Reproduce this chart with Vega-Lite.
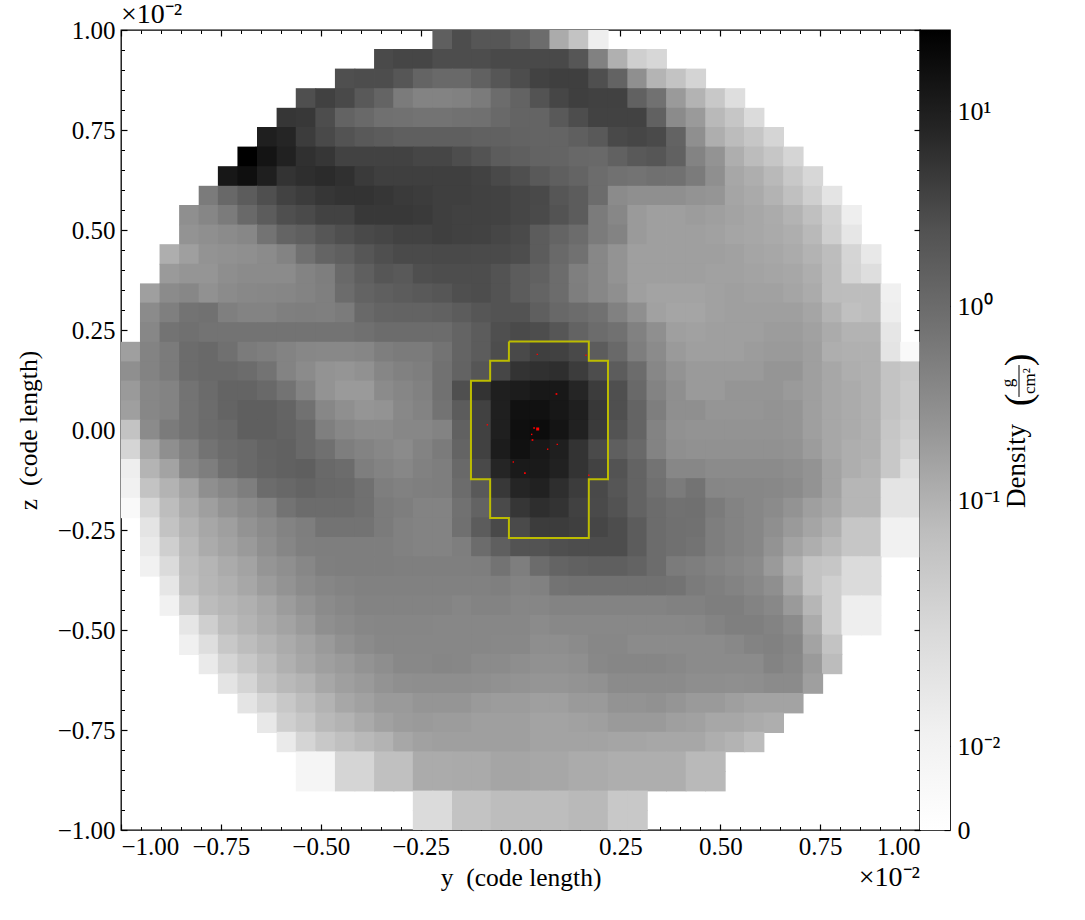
{"$schema":"https://vega.github.io/schema/vega-lite/v6.json","padding":{"left":15,"top":0,"right":0,"bottom":0},"background":"white","bounds":"flush","spacing":0,"config":{"view":{"stroke":"black","strokeWidth":1.3},"font":"Liberation Serif","axis":{"labelFont":"Liberation Serif","titleFont":"Liberation Serif","labelFontSize":25,"titleFontSize":25.5,"labelColor":"black","titleColor":"black","titleFontWeight":"normal","grid":false,"domain":false,"tickColor":"black","zindex":1}},
"hconcat":[{"width":799,"height":800,"resolve":{"axis":{"x":"independent","y":"independent"}},"layer":[
{"data":{"values":[
{"y":-0.195,"z":0.976,"d":2.1},{"y":-0.146,"z":0.976,"d":3.6},{"y":-0.098,"z":0.976,"d":2.7},{"y":-0.049,"z":0.976,"d":2.7},{"y":0,"z":0.976,"d":2.1},{"y":0.049,"z":0.976,"d":1.3},{"y":0.098,"z":0.976,"d":0.15},{"y":0.146,"z":0.976,"d":0.06},{"y":0.195,"z":0.976,"d":0.013},
{"y":-0.341,"z":0.927,"d":3.9},{"y":-0.293,"z":0.927,"d":4.5},{"y":-0.244,"z":0.927,"d":4.5},{"y":-0.195,"z":0.927,"d":3.6},{"y":-0.146,"z":0.927,"d":3.6},{"y":-0.098,"z":0.927,"d":3.6},{"y":-0.049,"z":0.927,"d":4.1},{"y":0,"z":0.927,"d":4.1},{"y":0.049,"z":0.927,"d":4.1},{"y":0.098,"z":0.927,"d":4.1},{"y":0.146,"z":0.927,"d":2.7},{"y":0.195,"z":0.927,"d":0.64},{"y":0.244,"z":0.927,"d":0.13},{"y":0.293,"z":0.927,"d":0.041},{"y":0.341,"z":0.927,"d":0.027},
{"y":-0.439,"z":0.878,"d":3.3},{"y":-0.39,"z":0.878,"d":3.6},{"y":-0.341,"z":0.878,"d":3.6},{"y":-0.293,"z":0.878,"d":2.7},{"y":-0.244,"z":0.878,"d":1.8},{"y":-0.195,"z":0.878,"d":1.5},{"y":-0.146,"z":0.878,"d":1.5},{"y":-0.098,"z":0.878,"d":2},{"y":-0.049,"z":0.878,"d":2.7},{"y":0,"z":0.878,"d":3.6},{"y":0.049,"z":0.878,"d":4.9},{"y":0.098,"z":0.878,"d":5.3},{"y":0.146,"z":0.878,"d":5.3},{"y":0.195,"z":0.878,"d":3.3},{"y":0.244,"z":0.878,"d":1.9},{"y":0.293,"z":0.878,"d":0.38},{"y":0.341,"z":0.878,"d":0.11},{"y":0.39,"z":0.878,"d":0.06},{"y":0.439,"z":0.878,"d":0.032},
{"y":-0.537,"z":0.829,"d":3.3},{"y":-0.488,"z":0.829,"d":5.1},{"y":-0.439,"z":0.829,"d":4.1},{"y":-0.39,"z":0.829,"d":2.5},{"y":-0.341,"z":0.829,"d":1.8},{"y":-0.293,"z":0.829,"d":0.75},{"y":-0.244,"z":0.829,"d":0.6},{"y":-0.195,"z":0.829,"d":0.6},{"y":-0.146,"z":0.829,"d":0.64},{"y":-0.098,"z":0.829,"d":0.75},{"y":-0.049,"z":0.829,"d":1.3},{"y":0,"z":0.829,"d":1.9},{"y":0.049,"z":0.829,"d":2.9},{"y":0.098,"z":0.829,"d":4.5},{"y":0.146,"z":0.829,"d":5.3},{"y":0.195,"z":0.829,"d":5.1},{"y":0.244,"z":0.829,"d":5.1},{"y":0.293,"z":0.829,"d":2},{"y":0.341,"z":0.829,"d":1},{"y":0.39,"z":0.829,"d":0.23},{"y":0.439,"z":0.829,"d":0.115},{"y":0.488,"z":0.829,"d":0.052},{"y":0.537,"z":0.829,"d":0.021},
{"y":-0.585,"z":0.78,"d":6.5},{"y":-0.537,"z":0.78,"d":6.3},{"y":-0.488,"z":0.78,"d":3.6},{"y":-0.439,"z":0.78,"d":1.9},{"y":-0.39,"z":0.78,"d":1.5},{"y":-0.341,"z":0.78,"d":1.1},{"y":-0.293,"z":0.78,"d":1},{"y":-0.244,"z":0.78,"d":0.9},{"y":-0.195,"z":0.78,"d":0.9},{"y":-0.146,"z":0.78,"d":1},{"y":-0.098,"z":0.78,"d":1.1},{"y":-0.049,"z":0.78,"d":1.5},{"y":0,"z":0.78,"d":1.8},{"y":0.049,"z":0.78,"d":1.8},{"y":0.098,"z":0.78,"d":2.5},{"y":0.146,"z":0.78,"d":3.6},{"y":0.195,"z":0.78,"d":4.9},{"y":0.244,"z":0.78,"d":4.9},{"y":0.293,"z":0.78,"d":4.9},{"y":0.341,"z":0.78,"d":2},{"y":0.39,"z":0.78,"d":0.45},{"y":0.439,"z":0.78,"d":0.23},{"y":0.488,"z":0.78,"d":0.09},{"y":0.537,"z":0.78,"d":0.055},{"y":0.585,"z":0.78,"d":0.023},
{"y":-0.634,"z":0.732,"d":12},{"y":-0.585,"z":0.732,"d":8.9},{"y":-0.537,"z":0.732,"d":5.7},{"y":-0.488,"z":0.732,"d":4.1},{"y":-0.439,"z":0.732,"d":2.9},{"y":-0.39,"z":0.732,"d":2.5},{"y":-0.341,"z":0.732,"d":2.3},{"y":-0.293,"z":0.732,"d":2.1},{"y":-0.244,"z":0.732,"d":2.1},{"y":-0.195,"z":0.732,"d":2.1},{"y":-0.146,"z":0.732,"d":2.1},{"y":-0.098,"z":0.732,"d":2},{"y":-0.049,"z":0.732,"d":2},{"y":0,"z":0.732,"d":1.9},{"y":0.049,"z":0.732,"d":1.8},{"y":0.098,"z":0.732,"d":1.8},{"y":0.146,"z":0.732,"d":2.1},{"y":0.195,"z":0.732,"d":2.5},{"y":0.244,"z":0.732,"d":4.1},{"y":0.293,"z":0.732,"d":4.5},{"y":0.341,"z":0.732,"d":3.9},{"y":0.39,"z":0.732,"d":1.9},{"y":0.439,"z":0.732,"d":0.38},{"y":0.488,"z":0.732,"d":0.14},{"y":0.537,"z":0.732,"d":0.075},{"y":0.585,"z":0.732,"d":0.055},{"y":0.634,"z":0.732,"d":0.03},
{"y":-0.683,"z":0.683,"d":25.9},{"y":-0.634,"z":0.683,"d":18.7},{"y":-0.585,"z":0.683,"d":11.3},{"y":-0.537,"z":0.683,"d":7.3},{"y":-0.488,"z":0.683,"d":6.5},{"y":-0.439,"z":0.683,"d":4.9},{"y":-0.39,"z":0.683,"d":4.9},{"y":-0.341,"z":0.683,"d":4.9},{"y":-0.293,"z":0.683,"d":4.9},{"y":-0.244,"z":0.683,"d":4.5},{"y":-0.195,"z":0.683,"d":4.5},{"y":-0.146,"z":0.683,"d":3.6},{"y":-0.098,"z":0.683,"d":2.9},{"y":-0.049,"z":0.683,"d":2.3},{"y":0,"z":0.683,"d":2.1},{"y":0.049,"z":0.683,"d":1.9},{"y":0.098,"z":0.683,"d":1.8},{"y":0.146,"z":0.683,"d":1.6},{"y":0.195,"z":0.683,"d":1.5},{"y":0.244,"z":0.683,"d":2},{"y":0.293,"z":0.683,"d":2.5},{"y":0.341,"z":0.683,"d":2.7},{"y":0.39,"z":0.683,"d":2},{"y":0.439,"z":0.683,"d":0.6},{"y":0.488,"z":0.683,"d":0.3},{"y":0.537,"z":0.683,"d":0.14},{"y":0.585,"z":0.683,"d":0.075},{"y":0.634,"z":0.683,"d":0.055},{"y":0.683,"z":0.683,"d":0.03},
{"y":-0.732,"z":0.634,"d":17},{"y":-0.683,"z":0.634,"d":21},{"y":-0.634,"z":0.634,"d":12},{"y":-0.585,"z":0.634,"d":6.9},{"y":-0.537,"z":0.634,"d":7.6},{"y":-0.488,"z":0.634,"d":8},{"y":-0.439,"z":0.634,"d":7.3},{"y":-0.39,"z":0.634,"d":6},{"y":-0.341,"z":0.634,"d":5.3},{"y":-0.293,"z":0.634,"d":5.3},{"y":-0.244,"z":0.634,"d":5.3},{"y":-0.195,"z":0.634,"d":5.3},{"y":-0.146,"z":0.634,"d":5.3},{"y":-0.098,"z":0.634,"d":4.9},{"y":-0.049,"z":0.634,"d":4.1},{"y":0,"z":0.634,"d":3.3},{"y":0.049,"z":0.634,"d":2.5},{"y":0.098,"z":0.634,"d":2.1},{"y":0.146,"z":0.634,"d":1.8},{"y":0.195,"z":0.634,"d":1.3},{"y":0.244,"z":0.634,"d":1},{"y":0.293,"z":0.634,"d":0.9},{"y":0.341,"z":0.634,"d":1.1},{"y":0.39,"z":0.634,"d":1},{"y":0.439,"z":0.634,"d":0.75},{"y":0.488,"z":0.634,"d":0.38},{"y":0.537,"z":0.634,"d":0.17},{"y":0.585,"z":0.634,"d":0.14},{"y":0.634,"z":0.634,"d":0.09},{"y":0.683,"z":0.634,"d":0.052},{"y":0.732,"z":0.634,"d":0.027},
{"y":-0.78,"z":0.585,"d":0.75},{"y":-0.732,"z":0.585,"d":1.6},{"y":-0.683,"z":0.585,"d":2.3},{"y":-0.634,"z":0.585,"d":3.3},{"y":-0.585,"z":0.585,"d":4.9},{"y":-0.537,"z":0.585,"d":5.7},{"y":-0.488,"z":0.585,"d":6.5},{"y":-0.439,"z":0.585,"d":6.9},{"y":-0.39,"z":0.585,"d":6.9},{"y":-0.341,"z":0.585,"d":6.5},{"y":-0.293,"z":0.585,"d":6},{"y":-0.244,"z":0.585,"d":5.7},{"y":-0.195,"z":0.585,"d":5.3},{"y":-0.146,"z":0.585,"d":5.3},{"y":-0.098,"z":0.585,"d":5.1},{"y":-0.049,"z":0.585,"d":4.9},{"y":0,"z":0.585,"d":4.5},{"y":0.049,"z":0.585,"d":4.1},{"y":0.098,"z":0.585,"d":2.7},{"y":0.146,"z":0.585,"d":2.3},{"y":0.195,"z":0.585,"d":1.3},{"y":0.244,"z":0.585,"d":0.45},{"y":0.293,"z":0.585,"d":0.38},{"y":0.341,"z":0.585,"d":0.38},{"y":0.39,"z":0.585,"d":0.38},{"y":0.439,"z":0.585,"d":0.3},{"y":0.488,"z":0.585,"d":0.26},{"y":0.537,"z":0.585,"d":0.18},{"y":0.585,"z":0.585,"d":0.155},{"y":0.634,"z":0.585,"d":0.115},{"y":0.683,"z":0.585,"d":0.065},{"y":0.732,"z":0.585,"d":0.041},{"y":0.78,"z":0.585,"d":0.018},
{"y":-0.829,"z":0.537,"d":0.38},{"y":-0.78,"z":0.537,"d":0.55},{"y":-0.732,"z":0.537,"d":0.75},{"y":-0.683,"z":0.537,"d":1.5},{"y":-0.634,"z":0.537,"d":2.3},{"y":-0.585,"z":0.537,"d":3.3},{"y":-0.537,"z":0.537,"d":3.9},{"y":-0.488,"z":0.537,"d":4.9},{"y":-0.439,"z":0.537,"d":4.9},{"y":-0.39,"z":0.537,"d":6.3},{"y":-0.341,"z":0.537,"d":6.3},{"y":-0.293,"z":0.537,"d":6.3},{"y":-0.244,"z":0.537,"d":6},{"y":-0.195,"z":0.537,"d":5.3},{"y":-0.146,"z":0.537,"d":5.1},{"y":-0.098,"z":0.537,"d":5.1},{"y":-0.049,"z":0.537,"d":4.9},{"y":0,"z":0.537,"d":4.5},{"y":0.049,"z":0.537,"d":3.9},{"y":0.098,"z":0.537,"d":2.9},{"y":0.146,"z":0.537,"d":2.3},{"y":0.195,"z":0.537,"d":0.75},{"y":0.244,"z":0.537,"d":0.53},{"y":0.293,"z":0.537,"d":0.23},{"y":0.341,"z":0.537,"d":0.21},{"y":0.39,"z":0.537,"d":0.21},{"y":0.439,"z":0.537,"d":0.22},{"y":0.488,"z":0.537,"d":0.21},{"y":0.537,"z":0.537,"d":0.19},{"y":0.585,"z":0.537,"d":0.17},{"y":0.634,"z":0.537,"d":0.15},{"y":0.683,"z":0.537,"d":0.115},{"y":0.732,"z":0.537,"d":0.065},{"y":0.78,"z":0.537,"d":0.035},{"y":0.829,"z":0.537,"d":0.013},
{"y":-0.829,"z":0.488,"d":0.3},{"y":-0.78,"z":0.488,"d":0.38},{"y":-0.732,"z":0.488,"d":0.45},{"y":-0.683,"z":0.488,"d":0.53},{"y":-0.634,"z":0.488,"d":0.9},{"y":-0.585,"z":0.488,"d":1.8},{"y":-0.537,"z":0.488,"d":2.1},{"y":-0.488,"z":0.488,"d":2.7},{"y":-0.439,"z":0.488,"d":3.3},{"y":-0.39,"z":0.488,"d":4.1},{"y":-0.341,"z":0.488,"d":4.5},{"y":-0.293,"z":0.488,"d":4.9},{"y":-0.244,"z":0.488,"d":4.9},{"y":-0.195,"z":0.488,"d":5.3},{"y":-0.146,"z":0.488,"d":5.1},{"y":-0.098,"z":0.488,"d":4.9},{"y":-0.049,"z":0.488,"d":4.5},{"y":0,"z":0.488,"d":3.9},{"y":0.049,"z":0.488,"d":2.3},{"y":0.098,"z":0.488,"d":1.8},{"y":0.146,"z":0.488,"d":1.3},{"y":0.195,"z":0.488,"d":0.75},{"y":0.244,"z":0.488,"d":0.6},{"y":0.293,"z":0.488,"d":0.23},{"y":0.341,"z":0.488,"d":0.21},{"y":0.39,"z":0.488,"d":0.21},{"y":0.439,"z":0.488,"d":0.21},{"y":0.488,"z":0.488,"d":0.2},{"y":0.537,"z":0.488,"d":0.18},{"y":0.585,"z":0.488,"d":0.17},{"y":0.634,"z":0.488,"d":0.155},{"y":0.683,"z":0.488,"d":0.14},{"y":0.732,"z":0.488,"d":0.09},{"y":0.78,"z":0.488,"d":0.041},{"y":0.829,"z":0.488,"d":0.017},
{"y":-0.878,"z":0.439,"d":0.14},{"y":-0.829,"z":0.439,"d":0.21},{"y":-0.78,"z":0.439,"d":0.3},{"y":-0.732,"z":0.439,"d":0.35},{"y":-0.683,"z":0.439,"d":0.38},{"y":-0.634,"z":0.439,"d":0.45},{"y":-0.585,"z":0.439,"d":0.6},{"y":-0.537,"z":0.439,"d":1.1},{"y":-0.488,"z":0.439,"d":1.8},{"y":-0.439,"z":0.439,"d":2.1},{"y":-0.39,"z":0.439,"d":2.7},{"y":-0.341,"z":0.439,"d":3.3},{"y":-0.293,"z":0.439,"d":3.9},{"y":-0.244,"z":0.439,"d":3.9},{"y":-0.195,"z":0.439,"d":4.1},{"y":-0.146,"z":0.439,"d":4.1},{"y":-0.098,"z":0.439,"d":3.9},{"y":-0.049,"z":0.439,"d":3.9},{"y":0,"z":0.439,"d":3.6},{"y":0.049,"z":0.439,"d":2.3},{"y":0.098,"z":0.439,"d":1.5},{"y":0.146,"z":0.439,"d":1},{"y":0.195,"z":0.439,"d":0.53},{"y":0.244,"z":0.439,"d":0.3},{"y":0.293,"z":0.439,"d":0.21},{"y":0.341,"z":0.439,"d":0.21},{"y":0.39,"z":0.439,"d":0.21},{"y":0.439,"z":0.439,"d":0.21},{"y":0.488,"z":0.439,"d":0.21},{"y":0.537,"z":0.439,"d":0.2},{"y":0.585,"z":0.439,"d":0.18},{"y":0.634,"z":0.439,"d":0.17},{"y":0.683,"z":0.439,"d":0.15},{"y":0.732,"z":0.439,"d":0.115},{"y":0.78,"z":0.439,"d":0.07},{"y":0.829,"z":0.439,"d":0.03},{"y":0.878,"z":0.439,"d":0.016},
{"y":-0.878,"z":0.39,"d":0.23},{"y":-0.829,"z":0.39,"d":0.26},{"y":-0.78,"z":0.39,"d":0.26},{"y":-0.732,"z":0.39,"d":0.4},{"y":-0.683,"z":0.39,"d":0.45},{"y":-0.634,"z":0.39,"d":0.45},{"y":-0.585,"z":0.39,"d":0.45},{"y":-0.537,"z":0.39,"d":0.6},{"y":-0.488,"z":0.39,"d":0.7},{"y":-0.439,"z":0.39,"d":1.5},{"y":-0.39,"z":0.39,"d":2.1},{"y":-0.341,"z":0.39,"d":2.7},{"y":-0.293,"z":0.39,"d":2.5},{"y":-0.244,"z":0.39,"d":3.3},{"y":-0.195,"z":0.39,"d":3.6},{"y":-0.146,"z":0.39,"d":3.6},{"y":-0.098,"z":0.39,"d":3.6},{"y":-0.049,"z":0.39,"d":2.9},{"y":0,"z":0.39,"d":2.3},{"y":0.049,"z":0.39,"d":2},{"y":0.098,"z":0.39,"d":1.3},{"y":0.146,"z":0.39,"d":0.67},{"y":0.195,"z":0.39,"d":0.53},{"y":0.244,"z":0.39,"d":0.3},{"y":0.293,"z":0.39,"d":0.21},{"y":0.341,"z":0.39,"d":0.21},{"y":0.39,"z":0.39,"d":0.21},{"y":0.439,"z":0.39,"d":0.21},{"y":0.488,"z":0.39,"d":0.2},{"y":0.537,"z":0.39,"d":0.2},{"y":0.585,"z":0.39,"d":0.19},{"y":0.634,"z":0.39,"d":0.18},{"y":0.683,"z":0.39,"d":0.17},{"y":0.732,"z":0.39,"d":0.14},{"y":0.78,"z":0.39,"d":0.075},{"y":0.829,"z":0.39,"d":0.032},{"y":0.878,"z":0.39,"d":0.021},
{"y":-0.927,"z":0.341,"d":0.21},{"y":-0.878,"z":0.341,"d":0.45},{"y":-0.829,"z":0.341,"d":0.53},{"y":-0.78,"z":0.341,"d":0.35},{"y":-0.732,"z":0.341,"d":0.45},{"y":-0.683,"z":0.341,"d":0.5},{"y":-0.634,"z":0.341,"d":0.53},{"y":-0.585,"z":0.341,"d":0.55},{"y":-0.537,"z":0.341,"d":0.6},{"y":-0.488,"z":0.341,"d":0.67},{"y":-0.439,"z":0.341,"d":1.3},{"y":-0.39,"z":0.341,"d":1.9},{"y":-0.341,"z":0.341,"d":2.1},{"y":-0.293,"z":0.341,"d":2.3},{"y":-0.244,"z":0.341,"d":2.5},{"y":-0.195,"z":0.341,"d":2.7},{"y":-0.146,"z":0.341,"d":3.3},{"y":-0.098,"z":0.341,"d":3.6},{"y":-0.049,"z":0.341,"d":2.9},{"y":0,"z":0.341,"d":2.3},{"y":0.049,"z":0.341,"d":1.8},{"y":0.098,"z":0.341,"d":1.3},{"y":0.146,"z":0.341,"d":0.7},{"y":0.195,"z":0.341,"d":0.53},{"y":0.244,"z":0.341,"d":0.38},{"y":0.293,"z":0.341,"d":0.21},{"y":0.341,"z":0.341,"d":0.19},{"y":0.39,"z":0.341,"d":0.19},{"y":0.439,"z":0.341,"d":0.19},{"y":0.488,"z":0.341,"d":0.2},{"y":0.537,"z":0.341,"d":0.21},{"y":0.585,"z":0.341,"d":0.2},{"y":0.634,"z":0.341,"d":0.2},{"y":0.683,"z":0.341,"d":0.18},{"y":0.732,"z":0.341,"d":0.15},{"y":0.78,"z":0.341,"d":0.075},{"y":0.829,"z":0.341,"d":0.07},{"y":0.878,"z":0.341,"d":0.07},{"y":0.927,"z":0.341,"d":0.012},
{"y":-0.927,"z":0.293,"d":0.45},{"y":-0.878,"z":0.293,"d":0.67},{"y":-0.829,"z":0.293,"d":0.9},{"y":-0.78,"z":0.293,"d":1},{"y":-0.732,"z":0.293,"d":0.67},{"y":-0.683,"z":0.293,"d":0.6},{"y":-0.634,"z":0.293,"d":0.6},{"y":-0.585,"z":0.293,"d":0.67},{"y":-0.537,"z":0.293,"d":0.7},{"y":-0.488,"z":0.293,"d":0.67},{"y":-0.439,"z":0.293,"d":0.75},{"y":-0.39,"z":0.293,"d":1.5},{"y":-0.341,"z":0.293,"d":1.8},{"y":-0.293,"z":0.293,"d":1.9},{"y":-0.244,"z":0.293,"d":1.9},{"y":-0.195,"z":0.293,"d":2},{"y":-0.146,"z":0.293,"d":2.3},{"y":-0.098,"z":0.293,"d":2.7},{"y":-0.049,"z":0.293,"d":2.9},{"y":0,"z":0.293,"d":2.9},{"y":0.049,"z":0.293,"d":2.1},{"y":0.098,"z":0.293,"d":1.6},{"y":0.146,"z":0.293,"d":1.3},{"y":0.195,"z":0.293,"d":1},{"y":0.244,"z":0.293,"d":0.64},{"y":0.293,"z":0.293,"d":0.38},{"y":0.341,"z":0.293,"d":0.2},{"y":0.39,"z":0.293,"d":0.18},{"y":0.439,"z":0.293,"d":0.18},{"y":0.488,"z":0.293,"d":0.2},{"y":0.537,"z":0.293,"d":0.21},{"y":0.585,"z":0.293,"d":0.21},{"y":0.634,"z":0.293,"d":0.21},{"y":0.683,"z":0.293,"d":0.21},{"y":0.732,"z":0.293,"d":0.18},{"y":0.78,"z":0.293,"d":0.115},{"y":0.829,"z":0.293,"d":0.065},{"y":0.878,"z":0.293,"d":0.07},{"y":0.927,"z":0.293,"d":0.013},
{"y":-0.927,"z":0.244,"d":0.53},{"y":-0.878,"z":0.244,"d":0.9},{"y":-0.829,"z":0.244,"d":1.1},{"y":-0.78,"z":0.244,"d":0.9},{"y":-0.732,"z":0.244,"d":0.9},{"y":-0.683,"z":0.244,"d":0.9},{"y":-0.634,"z":0.244,"d":0.9},{"y":-0.585,"z":0.244,"d":0.9},{"y":-0.537,"z":0.244,"d":0.9},{"y":-0.488,"z":0.244,"d":0.9},{"y":-0.439,"z":0.244,"d":0.9},{"y":-0.39,"z":0.244,"d":1.1},{"y":-0.341,"z":0.244,"d":1.3},{"y":-0.293,"z":0.244,"d":1.3},{"y":-0.244,"z":0.244,"d":1.3},{"y":-0.195,"z":0.244,"d":1.3},{"y":-0.146,"z":0.244,"d":1.8},{"y":-0.098,"z":0.244,"d":2.3},{"y":-0.049,"z":0.244,"d":3.3},{"y":0,"z":0.244,"d":3.9},{"y":0.049,"z":0.244,"d":3.6},{"y":0.098,"z":0.244,"d":2.7},{"y":0.146,"z":0.244,"d":1.9},{"y":0.195,"z":0.244,"d":1.3},{"y":0.244,"z":0.244,"d":1},{"y":0.293,"z":0.244,"d":0.64},{"y":0.341,"z":0.244,"d":0.38},{"y":0.39,"z":0.244,"d":0.21},{"y":0.439,"z":0.244,"d":0.2},{"y":0.488,"z":0.244,"d":0.21},{"y":0.537,"z":0.244,"d":0.21},{"y":0.585,"z":0.244,"d":0.21},{"y":0.634,"z":0.244,"d":0.22},{"y":0.683,"z":0.244,"d":0.22},{"y":0.732,"z":0.244,"d":0.2},{"y":0.78,"z":0.244,"d":0.15},{"y":0.829,"z":0.244,"d":0.115},{"y":0.878,"z":0.244,"d":0.115},{"y":0.927,"z":0.244,"d":0.017},
{"y":-0.976,"z":0.195,"d":0.21},{"y":-0.927,"z":0.195,"d":0.6},{"y":-0.878,"z":0.195,"d":0.75},{"y":-0.829,"z":0.195,"d":1.3},{"y":-0.78,"z":0.195,"d":1.5},{"y":-0.732,"z":0.195,"d":1.1},{"y":-0.683,"z":0.195,"d":0.75},{"y":-0.634,"z":0.195,"d":0.7},{"y":-0.585,"z":0.195,"d":0.6},{"y":-0.537,"z":0.195,"d":0.53},{"y":-0.488,"z":0.195,"d":0.5},{"y":-0.439,"z":0.195,"d":0.5},{"y":-0.39,"z":0.195,"d":0.55},{"y":-0.341,"z":0.195,"d":0.7},{"y":-0.293,"z":0.195,"d":0.75},{"y":-0.244,"z":0.195,"d":0.75},{"y":-0.195,"z":0.195,"d":0.9},{"y":-0.146,"z":0.195,"d":1.8},{"y":-0.098,"z":0.195,"d":2.3},{"y":-0.049,"z":0.195,"d":3.6},{"y":0,"z":0.195,"d":4.1},{"y":0.049,"z":0.195,"d":5.3},{"y":0.098,"z":0.195,"d":5.1},{"y":0.146,"z":0.195,"d":4.1},{"y":0.195,"z":0.195,"d":2.3},{"y":0.244,"z":0.195,"d":1.5},{"y":0.293,"z":0.195,"d":0.7},{"y":0.341,"z":0.195,"d":0.45},{"y":0.39,"z":0.195,"d":0.23},{"y":0.439,"z":0.195,"d":0.21},{"y":0.488,"z":0.195,"d":0.21},{"y":0.537,"z":0.195,"d":0.21},{"y":0.585,"z":0.195,"d":0.22},{"y":0.634,"z":0.195,"d":0.23},{"y":0.683,"z":0.195,"d":0.23},{"y":0.732,"z":0.195,"d":0.21},{"y":0.78,"z":0.195,"d":0.14},{"y":0.829,"z":0.195,"d":0.13},{"y":0.878,"z":0.195,"d":0.13},{"y":0.927,"z":0.195,"d":0.018},{"y":0.976,"z":0.195,"d":0.005},
{"y":-0.976,"z":0.146,"d":0.38},{"y":-0.927,"z":0.146,"d":0.6},{"y":-0.878,"z":0.146,"d":0.75},{"y":-0.829,"z":0.146,"d":1.3},{"y":-0.78,"z":0.146,"d":1.5},{"y":-0.732,"z":0.146,"d":1.5},{"y":-0.683,"z":0.146,"d":1.3},{"y":-0.634,"z":0.146,"d":0.9},{"y":-0.585,"z":0.146,"d":0.6},{"y":-0.537,"z":0.146,"d":0.45},{"y":-0.488,"z":0.146,"d":0.3},{"y":-0.439,"z":0.146,"d":0.26},{"y":-0.39,"z":0.146,"d":0.35},{"y":-0.341,"z":0.146,"d":0.55},{"y":-0.293,"z":0.146,"d":0.64},{"y":-0.244,"z":0.146,"d":0.7},{"y":-0.195,"z":0.146,"d":1},{"y":-0.146,"z":0.146,"d":1.9},{"y":-0.098,"z":0.146,"d":2.7},{"y":-0.049,"z":0.146,"d":4.5},{"y":0,"z":0.146,"d":6.9},{"y":0.049,"z":0.146,"d":7.3},{"y":0.098,"z":0.146,"d":7.6},{"y":0.146,"z":0.146,"d":5.7},{"y":0.195,"z":0.146,"d":3.6},{"y":0.244,"z":0.146,"d":2.3},{"y":0.293,"z":0.146,"d":1.3},{"y":0.341,"z":0.146,"d":0.53},{"y":0.39,"z":0.146,"d":0.3},{"y":0.439,"z":0.146,"d":0.23},{"y":0.488,"z":0.146,"d":0.23},{"y":0.537,"z":0.146,"d":0.23},{"y":0.585,"z":0.146,"d":0.23},{"y":0.634,"z":0.146,"d":0.26},{"y":0.683,"z":0.146,"d":0.26},{"y":0.732,"z":0.146,"d":0.21},{"y":0.78,"z":0.146,"d":0.17},{"y":0.829,"z":0.146,"d":0.14},{"y":0.878,"z":0.146,"d":0.13},{"y":0.927,"z":0.146,"d":0.06},{"y":0.976,"z":0.146,"d":0.052},
{"y":-0.976,"z":0.098,"d":0.23},{"y":-0.927,"z":0.098,"d":0.53},{"y":-0.878,"z":0.098,"d":0.6},{"y":-0.829,"z":0.098,"d":0.9},{"y":-0.78,"z":0.098,"d":1.4},{"y":-0.732,"z":0.098,"d":1.8},{"y":-0.683,"z":0.098,"d":1.8},{"y":-0.634,"z":0.098,"d":1.5},{"y":-0.585,"z":0.098,"d":0.9},{"y":-0.537,"z":0.098,"d":0.6},{"y":-0.488,"z":0.098,"d":0.3},{"y":-0.439,"z":0.098,"d":0.23},{"y":-0.39,"z":0.098,"d":0.23},{"y":-0.341,"z":0.098,"d":0.45},{"y":-0.293,"z":0.098,"d":0.55},{"y":-0.244,"z":0.098,"d":0.64},{"y":-0.195,"z":0.098,"d":1},{"y":-0.146,"z":0.098,"d":3.3},{"y":-0.098,"z":0.098,"d":6.9},{"y":-0.049,"z":0.098,"d":12},{"y":0,"z":0.098,"d":13.8},{"y":0.049,"z":0.098,"d":16.2},{"y":0.098,"z":0.098,"d":16.2},{"y":0.146,"z":0.098,"d":8.9},{"y":0.195,"z":0.098,"d":5.7},{"y":0.244,"z":0.098,"d":3.3},{"y":0.293,"z":0.098,"d":1.5},{"y":0.341,"z":0.098,"d":0.6},{"y":0.39,"z":0.098,"d":0.38},{"y":0.439,"z":0.098,"d":0.23},{"y":0.488,"z":0.098,"d":0.23},{"y":0.537,"z":0.098,"d":0.26},{"y":0.585,"z":0.098,"d":0.26},{"y":0.634,"z":0.098,"d":0.26},{"y":0.683,"z":0.098,"d":0.23},{"y":0.732,"z":0.098,"d":0.21},{"y":0.78,"z":0.098,"d":0.17},{"y":0.829,"z":0.098,"d":0.15},{"y":0.878,"z":0.098,"d":0.13},{"y":0.927,"z":0.098,"d":0.06},{"y":0.976,"z":0.098,"d":0.047},
{"y":-0.976,"z":0.049,"d":0.21},{"y":-0.927,"z":0.049,"d":0.53},{"y":-0.878,"z":0.049,"d":0.6},{"y":-0.829,"z":0.049,"d":0.9},{"y":-0.78,"z":0.049,"d":1.3},{"y":-0.732,"z":0.049,"d":1.8},{"y":-0.683,"z":0.049,"d":2.1},{"y":-0.634,"z":0.049,"d":2.1},{"y":-0.585,"z":0.049,"d":1.8},{"y":-0.537,"z":0.049,"d":1},{"y":-0.488,"z":0.049,"d":0.53},{"y":-0.439,"z":0.049,"d":0.38},{"y":-0.39,"z":0.049,"d":0.26},{"y":-0.341,"z":0.049,"d":0.3},{"y":-0.293,"z":0.049,"d":0.5},{"y":-0.244,"z":0.049,"d":0.6},{"y":-0.195,"z":0.049,"d":0.9},{"y":-0.146,"z":0.049,"d":2.3},{"y":-0.098,"z":0.049,"d":5.1},{"y":-0.049,"z":0.049,"d":12},{"y":0,"z":0.049,"d":20},{"y":0.049,"z":0.049,"d":20},{"y":0.098,"z":0.049,"d":17},{"y":0.146,"z":0.049,"d":12},{"y":0.195,"z":0.049,"d":6.3},{"y":0.244,"z":0.049,"d":3.3},{"y":0.293,"z":0.049,"d":1.8},{"y":0.341,"z":0.049,"d":0.7},{"y":0.39,"z":0.049,"d":0.38},{"y":0.439,"z":0.049,"d":0.38},{"y":0.488,"z":0.049,"d":0.26},{"y":0.537,"z":0.049,"d":0.26},{"y":0.585,"z":0.049,"d":0.26},{"y":0.634,"z":0.049,"d":0.3},{"y":0.683,"z":0.049,"d":0.26},{"y":0.732,"z":0.049,"d":0.21},{"y":0.78,"z":0.049,"d":0.17},{"y":0.829,"z":0.049,"d":0.15},{"y":0.878,"z":0.049,"d":0.13},{"y":0.927,"z":0.049,"d":0.06},{"y":0.976,"z":0.049,"d":0.047},
{"y":-0.976,"z":0,"d":0.06},{"y":-0.927,"z":0,"d":0.45},{"y":-0.878,"z":0,"d":0.75},{"y":-0.829,"z":0,"d":0.9},{"y":-0.78,"z":0,"d":1.3},{"y":-0.732,"z":0,"d":1.5},{"y":-0.683,"z":0,"d":2.1},{"y":-0.634,"z":0,"d":2.1},{"y":-0.585,"z":0,"d":1.9},{"y":-0.537,"z":0,"d":1.5},{"y":-0.488,"z":0,"d":0.67},{"y":-0.439,"z":0,"d":0.53},{"y":-0.39,"z":0,"d":0.45},{"y":-0.341,"z":0,"d":0.45},{"y":-0.293,"z":0,"d":0.53},{"y":-0.244,"z":0,"d":0.53},{"y":-0.195,"z":0,"d":0.6},{"y":-0.146,"z":0,"d":2},{"y":-0.098,"z":0,"d":5.1},{"y":-0.049,"z":0,"d":12},{"y":0,"z":0,"d":21},{"y":0.049,"z":0,"d":22},{"y":0.098,"z":0,"d":18.7},{"y":0.146,"z":0,"d":11.3},{"y":0.195,"z":0,"d":6},{"y":0.244,"z":0,"d":2.9},{"y":0.293,"z":0,"d":1.8},{"y":0.341,"z":0,"d":0.6},{"y":0.39,"z":0,"d":0.35},{"y":0.439,"z":0,"d":0.3},{"y":0.488,"z":0,"d":0.3},{"y":0.537,"z":0,"d":0.3},{"y":0.585,"z":0,"d":0.3},{"y":0.634,"z":0,"d":0.3},{"y":0.683,"z":0,"d":0.26},{"y":0.732,"z":0,"d":0.21},{"y":0.78,"z":0,"d":0.17},{"y":0.829,"z":0,"d":0.15},{"y":0.878,"z":0,"d":0.13},{"y":0.927,"z":0,"d":0.055},{"y":0.976,"z":0,"d":0.041},
{"y":-0.976,"z":-0.049,"d":0.03},{"y":-0.927,"z":-0.049,"d":0.17},{"y":-0.878,"z":-0.049,"d":0.38},{"y":-0.829,"z":-0.049,"d":0.64},{"y":-0.78,"z":-0.049,"d":0.9},{"y":-0.732,"z":-0.049,"d":1.3},{"y":-0.683,"z":-0.049,"d":1.5},{"y":-0.634,"z":-0.049,"d":1.9},{"y":-0.585,"z":-0.049,"d":2},{"y":-0.537,"z":-0.049,"d":1.5},{"y":-0.488,"z":-0.049,"d":1.1},{"y":-0.439,"z":-0.049,"d":0.7},{"y":-0.39,"z":-0.049,"d":0.6},{"y":-0.341,"z":-0.049,"d":0.53},{"y":-0.293,"z":-0.049,"d":0.45},{"y":-0.244,"z":-0.049,"d":0.6},{"y":-0.195,"z":-0.049,"d":0.75},{"y":-0.146,"z":-0.049,"d":1.8},{"y":-0.098,"z":-0.049,"d":5.1},{"y":-0.049,"z":-0.049,"d":13.8},{"y":0,"z":-0.049,"d":20},{"y":0.049,"z":-0.049,"d":16.2},{"y":0.098,"z":-0.049,"d":12},{"y":0.146,"z":-0.049,"d":6.9},{"y":0.195,"z":-0.049,"d":3.9},{"y":0.244,"z":-0.049,"d":2.1},{"y":0.293,"z":-0.049,"d":1.5},{"y":0.341,"z":-0.049,"d":0.6},{"y":0.39,"z":-0.049,"d":0.38},{"y":0.439,"z":-0.049,"d":0.35},{"y":0.488,"z":-0.049,"d":0.35},{"y":0.537,"z":-0.049,"d":0.35},{"y":0.585,"z":-0.049,"d":0.35},{"y":0.634,"z":-0.049,"d":0.35},{"y":0.683,"z":-0.049,"d":0.3},{"y":0.732,"z":-0.049,"d":0.22},{"y":0.78,"z":-0.049,"d":0.17},{"y":0.829,"z":-0.049,"d":0.14},{"y":0.878,"z":-0.049,"d":0.13},{"y":0.927,"z":-0.049,"d":0.052},{"y":0.976,"z":-0.049,"d":0.032},
{"y":-0.976,"z":-0.098,"d":0.013},{"y":-0.927,"z":-0.098,"d":0.11},{"y":-0.878,"z":-0.098,"d":0.19},{"y":-0.829,"z":-0.098,"d":0.53},{"y":-0.78,"z":-0.098,"d":0.7},{"y":-0.732,"z":-0.098,"d":1.1},{"y":-0.683,"z":-0.098,"d":1.5},{"y":-0.634,"z":-0.098,"d":1.8},{"y":-0.585,"z":-0.098,"d":2},{"y":-0.537,"z":-0.098,"d":2.1},{"y":-0.488,"z":-0.098,"d":1.5},{"y":-0.439,"z":-0.098,"d":1.3},{"y":-0.39,"z":-0.098,"d":0.7},{"y":-0.341,"z":-0.098,"d":0.6},{"y":-0.293,"z":-0.098,"d":0.53},{"y":-0.244,"z":-0.098,"d":0.64},{"y":-0.195,"z":-0.098,"d":0.7},{"y":-0.146,"z":-0.098,"d":1.5},{"y":-0.098,"z":-0.098,"d":4.1},{"y":-0.049,"z":-0.098,"d":8.9},{"y":0,"z":-0.098,"d":15},{"y":0.049,"z":-0.098,"d":15},{"y":0.098,"z":-0.098,"d":11.3},{"y":0.146,"z":-0.098,"d":6.9},{"y":0.195,"z":-0.098,"d":4.9},{"y":0.244,"z":-0.098,"d":2.9},{"y":0.293,"z":-0.098,"d":1.9},{"y":0.341,"z":-0.098,"d":0.9},{"y":0.39,"z":-0.098,"d":0.53},{"y":0.439,"z":-0.098,"d":0.53},{"y":0.488,"z":-0.098,"d":0.45},{"y":0.537,"z":-0.098,"d":0.45},{"y":0.585,"z":-0.098,"d":0.45},{"y":0.634,"z":-0.098,"d":0.45},{"y":0.683,"z":-0.098,"d":0.4},{"y":0.732,"z":-0.098,"d":0.3},{"y":0.78,"z":-0.098,"d":0.19},{"y":0.829,"z":-0.098,"d":0.14},{"y":0.878,"z":-0.098,"d":0.115},{"y":0.927,"z":-0.098,"d":0.052},{"y":0.976,"z":-0.098,"d":0.021},
{"y":-0.976,"z":-0.146,"d":0.011},{"y":-0.927,"z":-0.146,"d":0.06},{"y":-0.878,"z":-0.146,"d":0.115},{"y":-0.829,"z":-0.146,"d":0.19},{"y":-0.78,"z":-0.146,"d":0.38},{"y":-0.732,"z":-0.146,"d":0.53},{"y":-0.683,"z":-0.146,"d":0.7},{"y":-0.634,"z":-0.146,"d":1.3},{"y":-0.585,"z":-0.146,"d":1.6},{"y":-0.537,"z":-0.146,"d":1.8},{"y":-0.488,"z":-0.146,"d":1.6},{"y":-0.439,"z":-0.146,"d":1.5},{"y":-0.39,"z":-0.146,"d":1.1},{"y":-0.341,"z":-0.146,"d":0.7},{"y":-0.293,"z":-0.146,"d":0.64},{"y":-0.244,"z":-0.146,"d":0.67},{"y":-0.195,"z":-0.146,"d":0.7},{"y":-0.146,"z":-0.146,"d":1.3},{"y":-0.098,"z":-0.146,"d":2.5},{"y":-0.049,"z":-0.146,"d":6.3},{"y":0,"z":-0.146,"d":9},{"y":0.049,"z":-0.146,"d":11.3},{"y":0.098,"z":-0.146,"d":7.6},{"y":0.146,"z":-0.146,"d":5.7},{"y":0.195,"z":-0.146,"d":4.1},{"y":0.244,"z":-0.146,"d":2.7},{"y":0.293,"z":-0.146,"d":1.9},{"y":0.341,"z":-0.146,"d":1.1},{"y":0.39,"z":-0.146,"d":0.75},{"y":0.439,"z":-0.146,"d":0.9},{"y":0.488,"z":-0.146,"d":0.55},{"y":0.537,"z":-0.146,"d":0.53},{"y":0.585,"z":-0.146,"d":0.53},{"y":0.634,"z":-0.146,"d":0.5},{"y":0.683,"z":-0.146,"d":0.45},{"y":0.732,"z":-0.146,"d":0.3},{"y":0.78,"z":-0.146,"d":0.19},{"y":0.829,"z":-0.146,"d":0.1},{"y":0.878,"z":-0.146,"d":0.1},{"y":0.927,"z":-0.146,"d":0.018},{"y":0.976,"z":-0.146,"d":0.018},
{"y":-0.976,"z":-0.195,"d":0.005},{"y":-0.927,"z":-0.195,"d":0.027},{"y":-0.878,"z":-0.195,"d":0.07},{"y":-0.829,"z":-0.195,"d":0.15},{"y":-0.78,"z":-0.195,"d":0.21},{"y":-0.732,"z":-0.195,"d":0.3},{"y":-0.683,"z":-0.195,"d":0.45},{"y":-0.634,"z":-0.195,"d":0.6},{"y":-0.585,"z":-0.195,"d":0.9},{"y":-0.537,"z":-0.195,"d":1.3},{"y":-0.488,"z":-0.195,"d":1.3},{"y":-0.439,"z":-0.195,"d":1.3},{"y":-0.39,"z":-0.195,"d":1.1},{"y":-0.341,"z":-0.195,"d":0.75},{"y":-0.293,"z":-0.195,"d":0.7},{"y":-0.244,"z":-0.195,"d":0.6},{"y":-0.195,"z":-0.195,"d":0.6},{"y":-0.146,"z":-0.195,"d":1},{"y":-0.098,"z":-0.195,"d":1.9},{"y":-0.049,"z":-0.195,"d":3.9},{"y":0,"z":-0.195,"d":6.5},{"y":0.049,"z":-0.195,"d":7.6},{"y":0.098,"z":-0.195,"d":6.9},{"y":0.146,"z":-0.195,"d":5.1},{"y":0.195,"z":-0.195,"d":3.9},{"y":0.244,"z":-0.195,"d":2.9},{"y":0.293,"z":-0.195,"d":1.9},{"y":0.341,"z":-0.195,"d":1.3},{"y":0.39,"z":-0.195,"d":1},{"y":0.439,"z":-0.195,"d":1.1},{"y":0.488,"z":-0.195,"d":0.75},{"y":0.537,"z":-0.195,"d":0.6},{"y":0.585,"z":-0.195,"d":0.53},{"y":0.634,"z":-0.195,"d":0.45},{"y":0.683,"z":-0.195,"d":0.3},{"y":0.732,"z":-0.195,"d":0.21},{"y":0.78,"z":-0.195,"d":0.17},{"y":0.829,"z":-0.195,"d":0.1},{"y":0.878,"z":-0.195,"d":0.1},{"y":0.927,"z":-0.195,"d":0.018},{"y":0.976,"z":-0.195,"d":0.018},
{"y":-0.927,"z":-0.244,"d":0.018},{"y":-0.878,"z":-0.244,"d":0.06},{"y":-0.829,"z":-0.244,"d":0.115},{"y":-0.78,"z":-0.244,"d":0.17},{"y":-0.732,"z":-0.244,"d":0.21},{"y":-0.683,"z":-0.244,"d":0.3},{"y":-0.634,"z":-0.244,"d":0.45},{"y":-0.585,"z":-0.244,"d":0.6},{"y":-0.537,"z":-0.244,"d":0.7},{"y":-0.488,"z":-0.244,"d":0.9},{"y":-0.439,"z":-0.244,"d":0.9},{"y":-0.39,"z":-0.244,"d":0.9},{"y":-0.341,"z":-0.244,"d":0.75},{"y":-0.293,"z":-0.244,"d":0.64},{"y":-0.244,"z":-0.244,"d":0.6},{"y":-0.195,"z":-0.244,"d":0.6},{"y":-0.146,"z":-0.244,"d":1.1},{"y":-0.098,"z":-0.244,"d":2.3},{"y":-0.049,"z":-0.244,"d":4.1},{"y":0,"z":-0.244,"d":3.9},{"y":0.049,"z":-0.244,"d":5.7},{"y":0.098,"z":-0.244,"d":5.7},{"y":0.146,"z":-0.244,"d":5.3},{"y":0.195,"z":-0.244,"d":4.5},{"y":0.244,"z":-0.244,"d":3.6},{"y":0.293,"z":-0.244,"d":2.3},{"y":0.341,"z":-0.244,"d":1.3},{"y":0.39,"z":-0.244,"d":1.1},{"y":0.439,"z":-0.244,"d":1},{"y":0.488,"z":-0.244,"d":0.7},{"y":0.537,"z":-0.244,"d":0.6},{"y":0.585,"z":-0.244,"d":0.53},{"y":0.634,"z":-0.244,"d":0.38},{"y":0.683,"z":-0.244,"d":0.23},{"y":0.732,"z":-0.244,"d":0.18},{"y":0.78,"z":-0.244,"d":0.13},{"y":0.829,"z":-0.244,"d":0.055},{"y":0.878,"z":-0.244,"d":0.055},{"y":0.927,"z":-0.244,"d":0.011},{"y":0.976,"z":-0.244,"d":0.011},
{"y":-0.927,"z":-0.293,"d":0.015},{"y":-0.878,"z":-0.293,"d":0.041},{"y":-0.829,"z":-0.293,"d":0.09},{"y":-0.78,"z":-0.293,"d":0.15},{"y":-0.732,"z":-0.293,"d":0.19},{"y":-0.683,"z":-0.293,"d":0.23},{"y":-0.634,"z":-0.293,"d":0.38},{"y":-0.585,"z":-0.293,"d":0.55},{"y":-0.537,"z":-0.293,"d":0.67},{"y":-0.488,"z":-0.293,"d":0.7},{"y":-0.439,"z":-0.293,"d":0.7},{"y":-0.39,"z":-0.293,"d":0.7},{"y":-0.341,"z":-0.293,"d":0.7},{"y":-0.293,"z":-0.293,"d":0.64},{"y":-0.244,"z":-0.293,"d":0.6},{"y":-0.195,"z":-0.293,"d":0.6},{"y":-0.146,"z":-0.293,"d":0.7},{"y":-0.098,"z":-0.293,"d":1.3},{"y":-0.049,"z":-0.293,"d":2.1},{"y":0,"z":-0.293,"d":2.9},{"y":0.049,"z":-0.293,"d":2.9},{"y":0.098,"z":-0.293,"d":3.3},{"y":0.146,"z":-0.293,"d":3.6},{"y":0.195,"z":-0.293,"d":3.6},{"y":0.244,"z":-0.293,"d":3.6},{"y":0.293,"z":-0.293,"d":2.3},{"y":0.341,"z":-0.293,"d":1.3},{"y":0.39,"z":-0.293,"d":1.1},{"y":0.439,"z":-0.293,"d":0.9},{"y":0.488,"z":-0.293,"d":0.7},{"y":0.537,"z":-0.293,"d":0.6},{"y":0.585,"z":-0.293,"d":0.53},{"y":0.634,"z":-0.293,"d":0.3},{"y":0.683,"z":-0.293,"d":0.19},{"y":0.732,"z":-0.293,"d":0.14},{"y":0.78,"z":-0.293,"d":0.09},{"y":0.829,"z":-0.293,"d":0.055},{"y":0.878,"z":-0.293,"d":0.055},{"y":0.927,"z":-0.293,"d":0.011},{"y":0.976,"z":-0.293,"d":0.011},
{"y":-0.927,"z":-0.341,"d":0.011},{"y":-0.878,"z":-0.341,"d":0.023},{"y":-0.829,"z":-0.341,"d":0.07},{"y":-0.78,"z":-0.341,"d":0.107},{"y":-0.732,"z":-0.341,"d":0.15},{"y":-0.683,"z":-0.341,"d":0.19},{"y":-0.634,"z":-0.341,"d":0.26},{"y":-0.585,"z":-0.341,"d":0.38},{"y":-0.537,"z":-0.341,"d":0.53},{"y":-0.488,"z":-0.341,"d":0.67},{"y":-0.439,"z":-0.341,"d":0.7},{"y":-0.39,"z":-0.341,"d":0.7},{"y":-0.341,"z":-0.341,"d":0.7},{"y":-0.293,"z":-0.341,"d":0.67},{"y":-0.244,"z":-0.341,"d":0.67},{"y":-0.195,"z":-0.341,"d":0.67},{"y":-0.146,"z":-0.341,"d":0.67},{"y":-0.098,"z":-0.341,"d":0.7},{"y":-0.049,"z":-0.341,"d":0.9},{"y":0,"z":-0.341,"d":0.7},{"y":0.049,"z":-0.341,"d":1.3},{"y":0.098,"z":-0.341,"d":1.8},{"y":0.146,"z":-0.341,"d":2},{"y":0.195,"z":-0.341,"d":2.1},{"y":0.244,"z":-0.341,"d":2.1},{"y":0.293,"z":-0.341,"d":1.9},{"y":0.341,"z":-0.341,"d":1.3},{"y":0.39,"z":-0.341,"d":0.75},{"y":0.439,"z":-0.341,"d":0.7},{"y":0.488,"z":-0.341,"d":0.6},{"y":0.537,"z":-0.341,"d":0.53},{"y":0.585,"z":-0.341,"d":0.45},{"y":0.634,"z":-0.341,"d":0.23},{"y":0.683,"z":-0.341,"d":0.13},{"y":0.732,"z":-0.341,"d":0.06},{"y":0.78,"z":-0.341,"d":0.055},{"y":0.829,"z":-0.341,"d":0.023},{"y":0.878,"z":-0.341,"d":0.023},
{"y":-0.878,"z":-0.39,"d":0.017},{"y":-0.829,"z":-0.39,"d":0.065},{"y":-0.78,"z":-0.39,"d":0.1},{"y":-0.732,"z":-0.39,"d":0.13},{"y":-0.683,"z":-0.39,"d":0.17},{"y":-0.634,"z":-0.39,"d":0.22},{"y":-0.585,"z":-0.39,"d":0.3},{"y":-0.537,"z":-0.39,"d":0.45},{"y":-0.488,"z":-0.39,"d":0.55},{"y":-0.439,"z":-0.39,"d":0.6},{"y":-0.39,"z":-0.39,"d":0.64},{"y":-0.341,"z":-0.39,"d":0.64},{"y":-0.293,"z":-0.39,"d":0.64},{"y":-0.244,"z":-0.39,"d":0.64},{"y":-0.195,"z":-0.39,"d":0.64},{"y":-0.146,"z":-0.39,"d":0.64},{"y":-0.098,"z":-0.39,"d":0.64},{"y":-0.049,"z":-0.39,"d":0.67},{"y":0,"z":-0.39,"d":0.6},{"y":0.049,"z":-0.39,"d":0.64},{"y":0.098,"z":-0.39,"d":0.9},{"y":0.146,"z":-0.39,"d":1},{"y":0.195,"z":-0.39,"d":1},{"y":0.244,"z":-0.39,"d":1},{"y":0.293,"z":-0.39,"d":1},{"y":0.341,"z":-0.39,"d":1},{"y":0.39,"z":-0.39,"d":0.9},{"y":0.439,"z":-0.39,"d":0.75},{"y":0.488,"z":-0.39,"d":0.67},{"y":0.537,"z":-0.39,"d":0.6},{"y":0.585,"z":-0.39,"d":0.5},{"y":0.634,"z":-0.39,"d":0.38},{"y":0.683,"z":-0.39,"d":0.17},{"y":0.732,"z":-0.39,"d":0.06},{"y":0.78,"z":-0.39,"d":0.041},{"y":0.829,"z":-0.39,"d":0.023},{"y":0.878,"z":-0.39,"d":0.023},
{"y":-0.878,"z":-0.439,"d":0.011},{"y":-0.829,"z":-0.439,"d":0.041},{"y":-0.78,"z":-0.439,"d":0.075},{"y":-0.732,"z":-0.439,"d":0.1},{"y":-0.683,"z":-0.439,"d":0.13},{"y":-0.634,"z":-0.439,"d":0.17},{"y":-0.585,"z":-0.439,"d":0.22},{"y":-0.537,"z":-0.439,"d":0.3},{"y":-0.488,"z":-0.439,"d":0.45},{"y":-0.439,"z":-0.439,"d":0.53},{"y":-0.39,"z":-0.439,"d":0.6},{"y":-0.341,"z":-0.439,"d":0.6},{"y":-0.293,"z":-0.439,"d":0.6},{"y":-0.244,"z":-0.439,"d":0.6},{"y":-0.195,"z":-0.439,"d":0.6},{"y":-0.146,"z":-0.439,"d":0.55},{"y":-0.098,"z":-0.439,"d":0.6},{"y":-0.049,"z":-0.439,"d":0.6},{"y":0,"z":-0.439,"d":0.55},{"y":0.049,"z":-0.439,"d":0.55},{"y":0.098,"z":-0.439,"d":0.6},{"y":0.146,"z":-0.439,"d":0.6},{"y":0.195,"z":-0.439,"d":0.6},{"y":0.244,"z":-0.439,"d":0.6},{"y":0.293,"z":-0.439,"d":0.6},{"y":0.341,"z":-0.439,"d":0.6},{"y":0.39,"z":-0.439,"d":0.64},{"y":0.439,"z":-0.439,"d":0.64},{"y":0.488,"z":-0.439,"d":0.7},{"y":0.537,"z":-0.439,"d":0.7},{"y":0.585,"z":-0.439,"d":0.6},{"y":0.634,"z":-0.439,"d":0.5},{"y":0.683,"z":-0.439,"d":0.23},{"y":0.732,"z":-0.439,"d":0.1},{"y":0.78,"z":-0.439,"d":0.041},{"y":0.829,"z":-0.439,"d":0.013},{"y":0.878,"z":-0.439,"d":0.013},
{"y":-0.829,"z":-0.488,"d":0.017},{"y":-0.78,"z":-0.488,"d":0.041},{"y":-0.732,"z":-0.488,"d":0.07},{"y":-0.683,"z":-0.488,"d":0.11},{"y":-0.634,"z":-0.488,"d":0.15},{"y":-0.585,"z":-0.488,"d":0.19},{"y":-0.537,"z":-0.488,"d":0.23},{"y":-0.488,"z":-0.488,"d":0.38},{"y":-0.439,"z":-0.488,"d":0.45},{"y":-0.39,"z":-0.488,"d":0.53},{"y":-0.341,"z":-0.488,"d":0.55},{"y":-0.293,"z":-0.488,"d":0.55},{"y":-0.244,"z":-0.488,"d":0.55},{"y":-0.195,"z":-0.488,"d":0.53},{"y":-0.146,"z":-0.488,"d":0.53},{"y":-0.098,"z":-0.488,"d":0.53},{"y":-0.049,"z":-0.488,"d":0.53},{"y":0,"z":-0.488,"d":0.53},{"y":0.049,"z":-0.488,"d":0.45},{"y":0.098,"z":-0.488,"d":0.5},{"y":0.146,"z":-0.488,"d":0.5},{"y":0.195,"z":-0.488,"d":0.5},{"y":0.244,"z":-0.488,"d":0.5},{"y":0.293,"z":-0.488,"d":0.5},{"y":0.341,"z":-0.488,"d":0.5},{"y":0.39,"z":-0.488,"d":0.5},{"y":0.439,"z":-0.488,"d":0.53},{"y":0.488,"z":-0.488,"d":0.6},{"y":0.537,"z":-0.488,"d":0.67},{"y":0.585,"z":-0.488,"d":0.67},{"y":0.634,"z":-0.488,"d":0.6},{"y":0.683,"z":-0.488,"d":0.45},{"y":0.732,"z":-0.488,"d":0.15},{"y":0.78,"z":-0.488,"d":0.041},{"y":0.829,"z":-0.488,"d":0.013},{"y":0.878,"z":-0.488,"d":0.013},
{"y":-0.829,"z":-0.537,"d":0.012},{"y":-0.78,"z":-0.537,"d":0.021},{"y":-0.732,"z":-0.537,"d":0.052},{"y":-0.683,"z":-0.537,"d":0.07},{"y":-0.634,"z":-0.537,"d":0.11},{"y":-0.585,"z":-0.537,"d":0.15},{"y":-0.537,"z":-0.537,"d":0.19},{"y":-0.488,"z":-0.537,"d":0.23},{"y":-0.439,"z":-0.537,"d":0.35},{"y":-0.39,"z":-0.537,"d":0.45},{"y":-0.341,"z":-0.537,"d":0.53},{"y":-0.293,"z":-0.537,"d":0.53},{"y":-0.244,"z":-0.537,"d":0.53},{"y":-0.195,"z":-0.537,"d":0.53},{"y":-0.146,"z":-0.537,"d":0.53},{"y":-0.098,"z":-0.537,"d":0.53},{"y":-0.049,"z":-0.537,"d":0.5},{"y":0,"z":-0.537,"d":0.5},{"y":0.049,"z":-0.537,"d":0.4},{"y":0.098,"z":-0.537,"d":0.4},{"y":0.146,"z":-0.537,"d":0.45},{"y":0.195,"z":-0.537,"d":0.53},{"y":0.244,"z":-0.537,"d":0.53},{"y":0.293,"z":-0.537,"d":0.45},{"y":0.341,"z":-0.537,"d":0.45},{"y":0.39,"z":-0.537,"d":0.45},{"y":0.439,"z":-0.537,"d":0.45},{"y":0.488,"z":-0.537,"d":0.45},{"y":0.537,"z":-0.537,"d":0.5},{"y":0.585,"z":-0.537,"d":0.6},{"y":0.634,"z":-0.537,"d":0.64},{"y":0.683,"z":-0.537,"d":0.55},{"y":0.732,"z":-0.537,"d":0.19},{"y":0.78,"z":-0.537,"d":0.06},
{"y":-0.78,"z":-0.585,"d":0.015},{"y":-0.732,"z":-0.585,"d":0.03},{"y":-0.683,"z":-0.585,"d":0.052},{"y":-0.634,"z":-0.585,"d":0.075},{"y":-0.585,"z":-0.585,"d":0.13},{"y":-0.537,"z":-0.585,"d":0.17},{"y":-0.488,"z":-0.585,"d":0.21},{"y":-0.439,"z":-0.585,"d":0.23},{"y":-0.39,"z":-0.585,"d":0.3},{"y":-0.341,"z":-0.585,"d":0.4},{"y":-0.293,"z":-0.585,"d":0.5},{"y":-0.244,"z":-0.585,"d":0.5},{"y":-0.195,"z":-0.585,"d":0.55},{"y":-0.146,"z":-0.585,"d":0.53},{"y":-0.098,"z":-0.585,"d":0.45},{"y":-0.049,"z":-0.585,"d":0.45},{"y":0,"z":-0.585,"d":0.4},{"y":0.049,"z":-0.585,"d":0.35},{"y":0.098,"z":-0.585,"d":0.35},{"y":0.146,"z":-0.585,"d":0.38},{"y":0.195,"z":-0.585,"d":0.5},{"y":0.244,"z":-0.585,"d":0.55},{"y":0.293,"z":-0.585,"d":0.55},{"y":0.341,"z":-0.585,"d":0.55},{"y":0.39,"z":-0.585,"d":0.5},{"y":0.439,"z":-0.585,"d":0.45},{"y":0.488,"z":-0.585,"d":0.45},{"y":0.537,"z":-0.585,"d":0.45},{"y":0.585,"z":-0.585,"d":0.45},{"y":0.634,"z":-0.585,"d":0.6},{"y":0.683,"z":-0.585,"d":0.5},{"y":0.732,"z":-0.585,"d":0.23},{"y":0.78,"z":-0.585,"d":0.075},
{"y":-0.732,"z":-0.634,"d":0.018},{"y":-0.683,"z":-0.634,"d":0.03},{"y":-0.634,"z":-0.634,"d":0.06},{"y":-0.585,"z":-0.634,"d":0.09},{"y":-0.537,"z":-0.634,"d":0.115},{"y":-0.488,"z":-0.634,"d":0.17},{"y":-0.439,"z":-0.634,"d":0.21},{"y":-0.39,"z":-0.634,"d":0.23},{"y":-0.341,"z":-0.634,"d":0.3},{"y":-0.293,"z":-0.634,"d":0.38},{"y":-0.244,"z":-0.634,"d":0.4},{"y":-0.195,"z":-0.634,"d":0.4},{"y":-0.146,"z":-0.634,"d":0.4},{"y":-0.098,"z":-0.634,"d":0.38},{"y":-0.049,"z":-0.634,"d":0.35},{"y":0,"z":-0.634,"d":0.3},{"y":0.049,"z":-0.634,"d":0.26},{"y":0.098,"z":-0.634,"d":0.26},{"y":0.146,"z":-0.634,"d":0.3},{"y":0.195,"z":-0.634,"d":0.35},{"y":0.244,"z":-0.634,"d":0.45},{"y":0.293,"z":-0.634,"d":0.45},{"y":0.341,"z":-0.634,"d":0.45},{"y":0.39,"z":-0.634,"d":0.45},{"y":0.439,"z":-0.634,"d":0.4},{"y":0.488,"z":-0.634,"d":0.4},{"y":0.537,"z":-0.634,"d":0.38},{"y":0.585,"z":-0.634,"d":0.4},{"y":0.634,"z":-0.634,"d":0.45},{"y":0.683,"z":-0.634,"d":0.45},{"y":0.732,"z":-0.634,"d":0.21},
{"y":-0.683,"z":-0.683,"d":0.018},{"y":-0.634,"z":-0.683,"d":0.03},{"y":-0.585,"z":-0.683,"d":0.052},{"y":-0.537,"z":-0.683,"d":0.07},{"y":-0.488,"z":-0.683,"d":0.115},{"y":-0.439,"z":-0.683,"d":0.17},{"y":-0.39,"z":-0.683,"d":0.2},{"y":-0.341,"z":-0.683,"d":0.23},{"y":-0.293,"z":-0.683,"d":0.23},{"y":-0.244,"z":-0.683,"d":0.26},{"y":-0.195,"z":-0.683,"d":0.26},{"y":-0.146,"z":-0.683,"d":0.26},{"y":-0.098,"z":-0.683,"d":0.23},{"y":-0.049,"z":-0.683,"d":0.22},{"y":0,"z":-0.683,"d":0.22},{"y":0.049,"z":-0.683,"d":0.21},{"y":0.098,"z":-0.683,"d":0.21},{"y":0.146,"z":-0.683,"d":0.23},{"y":0.195,"z":-0.683,"d":0.23},{"y":0.244,"z":-0.683,"d":0.3},{"y":0.293,"z":-0.683,"d":0.3},{"y":0.341,"z":-0.683,"d":0.35},{"y":0.39,"z":-0.683,"d":0.26},{"y":0.439,"z":-0.683,"d":0.23},{"y":0.488,"z":-0.683,"d":0.23},{"y":0.537,"z":-0.683,"d":0.21},{"y":0.585,"z":-0.683,"d":0.19},{"y":0.634,"z":-0.683,"d":0.19},{"y":0.683,"z":-0.683,"d":0.19},
{"y":-0.634,"z":-0.732,"d":0.016},{"y":-0.585,"z":-0.732,"d":0.041},{"y":-0.537,"z":-0.732,"d":0.055},{"y":-0.488,"z":-0.732,"d":0.09},{"y":-0.439,"z":-0.732,"d":0.115},{"y":-0.39,"z":-0.732,"d":0.155},{"y":-0.341,"z":-0.732,"d":0.2},{"y":-0.293,"z":-0.732,"d":0.22},{"y":-0.244,"z":-0.732,"d":0.23},{"y":-0.195,"z":-0.732,"d":0.22},{"y":-0.146,"z":-0.732,"d":0.22},{"y":-0.098,"z":-0.732,"d":0.21},{"y":-0.049,"z":-0.732,"d":0.21},{"y":0,"z":-0.732,"d":0.21},{"y":0.049,"z":-0.732,"d":0.19},{"y":0.098,"z":-0.732,"d":0.19},{"y":0.146,"z":-0.732,"d":0.2},{"y":0.195,"z":-0.732,"d":0.21},{"y":0.244,"z":-0.732,"d":0.23},{"y":0.293,"z":-0.732,"d":0.23},{"y":0.341,"z":-0.732,"d":0.23},{"y":0.39,"z":-0.732,"d":0.21},{"y":0.439,"z":-0.732,"d":0.2},{"y":0.488,"z":-0.732,"d":0.17},{"y":0.537,"z":-0.732,"d":0.17},{"y":0.585,"z":-0.732,"d":0.15},{"y":0.634,"z":-0.732,"d":0.14},
{"y":-0.585,"z":-0.78,"d":0.015},{"y":-0.537,"z":-0.78,"d":0.03},{"y":-0.488,"z":-0.78,"d":0.052},{"y":-0.439,"z":-0.78,"d":0.065},{"y":-0.39,"z":-0.78,"d":0.09},{"y":-0.341,"z":-0.78,"d":0.115},{"y":-0.293,"z":-0.78,"d":0.17},{"y":-0.244,"z":-0.78,"d":0.2},{"y":-0.195,"z":-0.78,"d":0.21},{"y":-0.146,"z":-0.78,"d":0.21},{"y":-0.098,"z":-0.78,"d":0.21},{"y":-0.049,"z":-0.78,"d":0.21},{"y":0,"z":-0.78,"d":0.21},{"y":0.049,"z":-0.78,"d":0.19},{"y":0.098,"z":-0.78,"d":0.19},{"y":0.146,"z":-0.78,"d":0.19},{"y":0.195,"z":-0.78,"d":0.19},{"y":0.244,"z":-0.78,"d":0.18},{"y":0.293,"z":-0.78,"d":0.18},{"y":0.341,"z":-0.78,"d":0.17},{"y":0.39,"z":-0.78,"d":0.17},{"y":0.439,"z":-0.78,"d":0.17},{"y":0.488,"z":-0.78,"d":0.14},{"y":0.537,"z":-0.78,"d":0.115},{"y":0.585,"z":-0.78,"d":0.075},
{"y":-0.537,"z":-0.829,"d":0.008},{"y":-0.488,"z":-0.829,"d":0.008},{"y":-0.439,"z":-0.829,"d":0.03},{"y":-0.39,"z":-0.829,"d":0.03},{"y":-0.341,"z":-0.829,"d":0.065},{"y":-0.293,"z":-0.829,"d":0.065},{"y":-0.244,"z":-0.829,"d":0.15},{"y":-0.195,"z":-0.829,"d":0.15},{"y":-0.146,"z":-0.829,"d":0.155},{"y":-0.098,"z":-0.829,"d":0.155},{"y":-0.049,"z":-0.829,"d":0.18},{"y":0,"z":-0.829,"d":0.18},{"y":0.049,"z":-0.829,"d":0.17},{"y":0.098,"z":-0.829,"d":0.17},{"y":0.146,"z":-0.829,"d":0.15},{"y":0.195,"z":-0.829,"d":0.15},{"y":0.244,"z":-0.829,"d":0.14},{"y":0.293,"z":-0.829,"d":0.14},{"y":0.341,"z":-0.829,"d":0.14},{"y":0.39,"z":-0.829,"d":0.14},{"y":0.439,"z":-0.829,"d":0.09},{"y":0.488,"z":-0.829,"d":0.09},
{"y":-0.537,"z":-0.878,"d":0.008},{"y":-0.488,"z":-0.878,"d":0.008},{"y":-0.439,"z":-0.878,"d":0.03},{"y":-0.39,"z":-0.878,"d":0.03},{"y":-0.341,"z":-0.878,"d":0.065},{"y":-0.293,"z":-0.878,"d":0.065},{"y":-0.244,"z":-0.878,"d":0.15},{"y":-0.195,"z":-0.878,"d":0.15},{"y":-0.146,"z":-0.878,"d":0.155},{"y":-0.098,"z":-0.878,"d":0.155},{"y":-0.049,"z":-0.878,"d":0.18},{"y":0,"z":-0.878,"d":0.18},{"y":0.049,"z":-0.878,"d":0.17},{"y":0.098,"z":-0.878,"d":0.17},{"y":0.146,"z":-0.878,"d":0.15},{"y":0.195,"z":-0.878,"d":0.15},{"y":0.244,"z":-0.878,"d":0.14},{"y":0.293,"z":-0.878,"d":0.14},{"y":0.341,"z":-0.878,"d":0.14},{"y":0.39,"z":-0.878,"d":0.14},{"y":0.439,"z":-0.878,"d":0.09},{"y":0.488,"z":-0.878,"d":0.09},
{"y":-0.244,"z":-0.927,"d":0.023},{"y":-0.195,"z":-0.927,"d":0.023},{"y":-0.146,"z":-0.927,"d":0.06},{"y":-0.098,"z":-0.927,"d":0.06},{"y":-0.049,"z":-0.927,"d":0.07},{"y":0,"z":-0.927,"d":0.07},{"y":0.049,"z":-0.927,"d":0.07},{"y":0.098,"z":-0.927,"d":0.07},{"y":0.146,"z":-0.927,"d":0.09},{"y":0.195,"z":-0.927,"d":0.09},{"y":0.244,"z":-0.927,"d":0.052},{"y":0.293,"z":-0.927,"d":0.052},
{"y":-0.244,"z":-0.976,"d":0.023},{"y":-0.195,"z":-0.976,"d":0.023},{"y":-0.146,"z":-0.976,"d":0.06},{"y":-0.098,"z":-0.976,"d":0.06},{"y":-0.049,"z":-0.976,"d":0.07},{"y":0,"z":-0.976,"d":0.07},{"y":0.049,"z":-0.976,"d":0.07},{"y":0.098,"z":-0.976,"d":0.07},{"y":0.146,"z":-0.976,"d":0.09},{"y":0.195,"z":-0.976,"d":0.09},{"y":0.244,"z":-0.976,"d":0.052},{"y":0.293,"z":-0.976,"d":0.052}
]},"mark":{"type":"rect","width":20.4,"height":20.4,"clip":true,"strokeWidth":0},"encoding":{"x":{"field":"y","type":"quantitative","scale":{"domain":[-1,1]},"axis":{"orient":"bottom","values":[-1,-0.75,-0.5,-0.25,0,0.25,0.5,0.75,1],"format":".2f","tickSize":-6,"tickWidth":1.2,"labelPadding":10,"title":"y\u00a0\u00a0(code length)","titlePadding":6}},"y":{"field":"z","type":"quantitative","scale":{"domain":[-1,1]},"axis":{"orient":"left","values":[-1,-0.75,-0.5,-0.25,0,0.25,0.5,0.75,1],"format":".2f","tickSize":-6,"tickWidth":1.2,"labelPadding":12,"title":"z\u00a0\u00a0(code length)","titlePadding":16}},"color":{"field":"d","type":"quantitative","legend":null,"scale":{"type":"linear","clamp":true,"domain":[0,0.0119,0.0238,0.0701,0.25,0.9,2.95,8.8,25.9],"range":["#ffffff","#f0f0f0","#d9d9d9","#bdbdbd","#969696","#737373","#525252","#252525","#000000"]}}}},
{"data":{"values":[{"y":-0.029,"z":0.221,"o":1},{"y":0.171,"z":0.221,"o":2},{"y":0.171,"z":0.173,"o":3},{"y":0.219,"z":0.173,"o":4},{"y":0.219,"z":-0.123,"o":5},{"y":0.171,"z":-0.123,"o":6},{"y":0.171,"z":-0.27,"o":7},{"y":-0.029,"z":-0.27,"o":8},{"y":-0.029,"z":-0.22,"o":9},{"y":-0.076,"z":-0.22,"o":10},{"y":-0.076,"z":-0.123,"o":11},{"y":-0.124,"z":-0.123,"o":12},{"y":-0.124,"z":0.123,"o":13},{"y":-0.076,"z":0.123,"o":14},{"y":-0.076,"z":0.173,"o":15},{"y":-0.029,"z":0.173,"o":16},{"y":-0.029,"z":0.221,"o":17}]},"mark":{"type":"line","color":"#bcbc00","strokeWidth":2},"encoding":{"x":{"field":"y","type":"quantitative","scale":{"domain":[-1,1]},"axis":null},"y":{"field":"z","type":"quantitative","scale":{"domain":[-1,1]},"axis":null},"order":{"field":"o"}}},
{"data":{"values":[{"y":0.042,"z":0.189,"m":2},{"y":0.164,"z":0.187,"m":2},{"y":0.09,"z":0.09,"m":3},{"y":-0.083,"z":0.013,"m":2},{"y":0.034,"z":0.005,"m":3},{"y":0.043,"z":0.0025,"m":9},{"y":0.028,"z":-0.011,"m":2},{"y":0.03,"z":-0.025,"m":3},{"y":0.092,"z":-0.036,"m":2},{"y":0.068,"z":-0.048,"m":2},{"y":-0.018,"z":-0.08,"m":2},{"y":0.011,"z":-0.108,"m":3},{"y":0.171,"z":-0.113,"m":2}]},"mark":{"type":"point","shape":"square","filled":true,"color":"red","opacity":1},"encoding":{"x":{"field":"y","type":"quantitative","scale":{"domain":[-1,1]},"axis":null},"y":{"field":"z","type":"quantitative","scale":{"domain":[-1,1]},"axis":null},"size":{"field":"m","type":"quantitative","scale":null,"legend":null}}},
{"data":{"values":[{"y":0,"z":0}]},"mark":{"type":"point","opacity":0},"encoding":{"x":{"field":"y","type":"quantitative","scale":{"domain":[-1,1]},"axis":{"orient":"top","values":[-1,-0.75,-0.5,-0.25,0,0.25,0.5,0.75,1],"labels":false,"tickSize":-6,"tickWidth":1.2,"title":null}},"y":{"field":"z","type":"quantitative","scale":{"domain":[-1,1]},"axis":{"orient":"right","values":[-1,-0.75,-0.5,-0.25,0,0.25,0.5,0.75,1],"labels":false,"tickSize":-6,"tickWidth":1.2,"title":null}}}},
{"data":{"values":[{"y":0,"z":0}]},"mark":{"type":"point","opacity":0},"encoding":{"x":{"field":"y","type":"quantitative","scale":{"domain":[-1,1]},"axis":{"orient":"bottom","values":[-0.95,-0.9,-0.85,-0.8,-0.7,-0.65,-0.6,-0.55,-0.45,-0.4,-0.35,-0.3,-0.2,-0.15,-0.1,-0.05,0.05,0.1,0.15,0.2,0.3,0.35,0.4,0.45,0.55,0.6,0.65,0.7,0.8,0.85,0.9,0.95],"labels":false,"tickSize":-3.5,"tickWidth":1,"title":null}},"y":{"field":"z","type":"quantitative","scale":{"domain":[-1,1]},"axis":{"orient":"left","values":[-0.95,-0.9,-0.85,-0.8,-0.7,-0.65,-0.6,-0.55,-0.45,-0.4,-0.35,-0.3,-0.2,-0.15,-0.1,-0.05,0.05,0.1,0.15,0.2,0.3,0.35,0.4,0.45,0.55,0.6,0.65,0.7,0.8,0.85,0.9,0.95],"labels":false,"tickSize":-3.5,"tickWidth":1,"title":null}}}},
{"data":{"values":[{"y":0,"z":0}]},"mark":{"type":"point","opacity":0},"encoding":{"x":{"field":"y","type":"quantitative","scale":{"domain":[-1,1]},"axis":{"orient":"top","values":[-0.95,-0.9,-0.85,-0.8,-0.7,-0.65,-0.6,-0.55,-0.45,-0.4,-0.35,-0.3,-0.2,-0.15,-0.1,-0.05,0.05,0.1,0.15,0.2,0.3,0.35,0.4,0.45,0.55,0.6,0.65,0.7,0.8,0.85,0.9,0.95],"labels":false,"tickSize":-3.5,"tickWidth":1,"title":null}},"y":{"field":"z","type":"quantitative","scale":{"domain":[-1,1]},"axis":{"orient":"right","values":[-0.95,-0.9,-0.85,-0.8,-0.7,-0.65,-0.6,-0.55,-0.45,-0.4,-0.35,-0.3,-0.2,-0.15,-0.1,-0.05,0.05,0.1,0.15,0.2,0.3,0.35,0.4,0.45,0.55,0.6,0.65,0.7,0.8,0.85,0.9,0.95],"labels":false,"tickSize":-3.5,"tickWidth":1,"title":null}}}},
{"data":{"values":[{"y":-1,"z":1,"t":"×10⁻²"}]},"mark":{"type":"text","align":"left","baseline":"bottom","fontSize":28,"dy":-1,"clip":false},"encoding":{"x":{"field":"y","type":"quantitative","scale":{"domain":[-1,1]},"axis":null},"y":{"field":"z","type":"quantitative","scale":{"domain":[-1,1]},"axis":null},"text":{"field":"t"}}},
{"data":{"values":[{"y":1,"z":-1,"t":"×10⁻²"}]},"mark":{"type":"text","align":"right","baseline":"top","fontSize":28,"dy":34,"clip":false},"encoding":{"x":{"field":"y","type":"quantitative","scale":{"domain":[-1,1]},"axis":null},"y":{"field":"z","type":"quantitative","scale":{"domain":[-1,1]},"axis":null},"text":{"field":"t"}}}
]},
{"width":30,"height":800,"resolve":{"axis":{"x":"independent","y":"independent"}},"view":{"stroke":"black","strokeWidth":1.3},"layer":[
{"data":{"values":[{"a":0,"b":1,"lo":0,"hi":25.9}]},"mark":{"type":"rect","fill":{"gradient":"linear","x1":0,"y1":1,"x2":0,"y2":0,"stops":[{"offset":0,"color":"#ffffff"},{"offset":0.125,"color":"#f0f0f0"},{"offset":0.25,"color":"#d9d9d9"},{"offset":0.375,"color":"#bdbdbd"},{"offset":0.5,"color":"#969696"},{"offset":0.625,"color":"#737373"},{"offset":0.75,"color":"#525252"},{"offset":0.875,"color":"#252525"},{"offset":1,"color":"#000000"}]}},"encoding":{"x":{"field":"a","type":"quantitative","scale":{"domain":[0,1]},"axis":null},"x2":{"field":"b"},"y":{"field":"lo","type":"quantitative","scale":{"type":"linear","domain":[0,0.01,0.1,1,10,25.9],"range":[800,716,470,276,81,0]},"axis":{"orient":"right","values":[0,0.01,0.1,1,10],"labelExpr":"datum.value==0?'0':datum.value==0.01?'10⁻²':datum.value==0.1?'10⁻¹':datum.value==1?'10⁰':'10¹'","tickSize":-6,"tickWidth":1.2,"labelPadding":13,"title":null,"labelFontSize":26}},"y2":{"field":"hi"}}},
{"data":{"values":[{"a":3.23,"v":0.258,"t":"Density"}]},"mark":{"type":"text","angle":270,"fontSize":27,"align":"center","baseline":"middle","clip":false},"encoding":{"x":{"field":"a","type":"quantitative","scale":{"domain":[0,1]},"axis":null},"y":{"field":"v","type":"quantitative","scale":{"type":"linear","domain":[0,0.01,0.1,1,10,25.9],"range":[800,716,470,276,81,0]},"axis":null},"text":{"field":"t"}}},
{"data":{"values":[{"a":3.33,"v":0.564,"t":"("},{"a":3.33,"v":0.75,"t":")"}]},"mark":{"type":"text","angle":270,"fontSize":38,"align":"center","baseline":"middle","clip":false},"encoding":{"x":{"field":"a","type":"quantitative","scale":{"domain":[0,1]},"axis":null},"y":{"field":"v","type":"quantitative","scale":{"type":"linear","domain":[0,0.01,0.1,1,10,25.9],"range":[800,716,470,276,81,0]},"axis":null},"text":{"field":"t"}}},
{"data":{"values":[{"a":2.93,"v":0.643,"t":"g"},{"a":3.67,"v":0.652,"t":"cm²"}]},"mark":{"type":"text","angle":270,"fontSize":17,"align":"center","baseline":"middle","clip":false},"encoding":{"x":{"field":"a","type":"quantitative","scale":{"domain":[0,1]},"axis":null},"y":{"field":"v","type":"quantitative","scale":{"type":"linear","domain":[0,0.01,0.1,1,10,25.9],"range":[800,716,470,276,81,0]},"axis":null},"text":{"field":"t"}}},
{"data":{"values":[{"a":3.3,"lo":0.578,"hi":0.726}]},"mark":{"type":"rule","color":"black","strokeWidth":1,"clip":false},"encoding":{"x":{"field":"a","type":"quantitative","scale":{"domain":[0,1]},"axis":null},"y":{"field":"lo","type":"quantitative","scale":{"type":"linear","domain":[0,0.01,0.1,1,10,25.9],"range":[800,716,470,276,81,0]},"axis":null},"y2":{"field":"hi"}}}
]}]}
